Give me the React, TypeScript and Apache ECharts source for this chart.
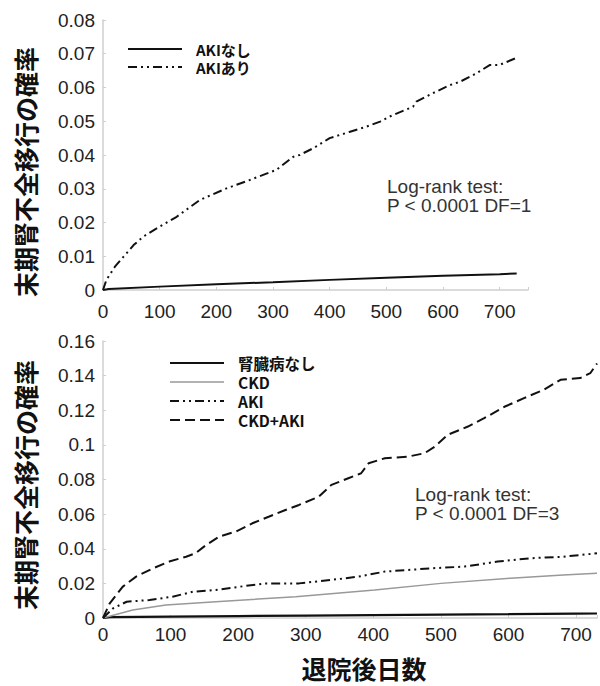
import React, { useEffect, useRef } from "react";
import * as echarts from "echarts";

// ---- data ----
const topNoneX = [0, 10, 100, 200, 300, 400, 500, 600, 700, 730];
const topNoneY = [0, 0.0003, 0.001, 0.0017, 0.0023, 0.003, 0.0036, 0.0042, 0.0047, 0.0049];

const topAkiX = [0, 6, 21, 54, 71, 100, 130, 171, 218, 259, 306, 336, 347, 371, 400, 436, 465, 489, 506, 547, 553, 582, 612, 630, 659, 683, 700, 727];
const topAkiY = [0, 0.003, 0.0069, 0.0133, 0.0158, 0.0188, 0.0217, 0.0267, 0.0301, 0.0326, 0.0356, 0.0395, 0.04, 0.042, 0.045, 0.0469, 0.0484, 0.0499, 0.0514, 0.0543, 0.0558, 0.0583, 0.0607, 0.0617, 0.0642, 0.0667, 0.0667, 0.0686];

const botNoneX = [0, 10, 100, 200, 300, 400, 500, 600, 700, 731];
const botNoneY = [0, 0.0005, 0.0008, 0.0011, 0.0014, 0.0017, 0.002, 0.0022, 0.0025, 0.0026];

const botCkdX = [0, 44, 93, 167, 285, 402, 500, 603, 681, 731];
const botCkdY = [0, 0.0046, 0.0075, 0.0094, 0.0123, 0.0162, 0.02, 0.023, 0.0249, 0.0258];

const botAkiX = [0, 15, 35, 69, 103, 133, 167, 201, 240, 290, 338, 378, 417, 486, 535, 584, 632, 681, 731];
const botAkiY = [0, 0.0056, 0.0094, 0.0104, 0.0123, 0.0152, 0.0162, 0.018, 0.02, 0.02, 0.022, 0.0239, 0.0268, 0.0287, 0.0297, 0.0326, 0.0345, 0.0354, 0.0374];

const botCkdAkiX = [0, 10, 29, 49, 74, 98, 123, 137, 152, 172, 197, 221, 246, 270, 290, 319, 338, 363, 382, 393, 417, 451, 476, 491, 510, 540, 564, 594, 623, 652, 677, 706, 721, 731];
const botCkdAkiY = [0, 0.0085, 0.018, 0.0239, 0.0287, 0.0326, 0.0354, 0.0374, 0.042, 0.047, 0.05, 0.0547, 0.0586, 0.0624, 0.0653, 0.07, 0.0769, 0.0807, 0.0836, 0.0894, 0.0923, 0.0932, 0.0952, 0.099, 0.1058, 0.1106, 0.1154, 0.122, 0.127, 0.1318, 0.1376, 0.1386, 0.1414, 0.147];

const topLegend = ["AKIなし", "AKIあり"];
const botLegend = ["腎臓病なし", "CKD", "AKI", "CKD+AKI"];
const yTitle = "末期腎不全移行の確率";
const xTitle = "退院後日数";
const topTest = ["Log-rank test:", "P < 0.0001 DF=1"];
const botTest = ["Log-rank test:", "P < 0.0001 DF=3"];

const zip = (xs: number[], ys: number[]) => xs.map((x, i) => [x, ys[i]]);

const DASHDOT = [9, 4, 2, 4, 2, 4];
const DASH = [10, 5];
const CJK = "'Noto Sans CJK JP', 'Noto Sans', sans-serif";
const SANS = "'Liberation Sans', Arial, sans-serif";

export default function App() {
  const ref = useRef<HTMLDivElement>(null);
  useEffect(() => {
    document.body.style.margin = "0";
    const chart = echarts.init(ref.current!, undefined, { renderer: "svg" });

    const axisCommon = {
      axisLine: { lineStyle: { color: "#cfcfcf", width: 1.5 } },
      axisTick: { inside: true, length: 3, lineStyle: { color: "#cfcfcf" } },
      splitLine: { show: false },
    };
    const xLabel = (margin: number) => ({
      color: "#222",
      fontSize: 19,
      fontFamily: SANS,
      margin,
      formatter: (v: number) => (v % 100 === 0 ? String(v) : ""),
    });
    const yLabel = { color: "#222", fontSize: 19, fontFamily: SANS, margin: 8 };

    const legendItems = (
      x0: number,
      y0: number,
      step: number,
      labels: string[],
      styles: any[],
      fs: number
    ) =>
      labels.flatMap((lab, i) => [
        {
          type: "line",
          shape: { x1: x0, y1: y0 + i * step, x2: x0 + 54, y2: y0 + i * step },
          style: styles[i],
        },
        {
          type: "text",
          x: x0 + 68,
          y: y0 + i * step,
          style: {
            text: lab,
            fill: "#111",
            font: `bold ${fs}px ${CJK}`,
            lineHeight: fs,
            textVerticalAlign: "middle",
          },
        },
      ]);

    const testText = (x: number, y: number, lines: string[]) => ({
      type: "text",
      x,
      y,
      style: {
        text: lines.join("\n"),
        fill: "#333",
        font: `19px ${SANS}`,
        lineHeight: 19,
      },
    });

    const sBlack = { stroke: "#111", lineWidth: 2 };
    const sGray = { stroke: "#999", lineWidth: 1.5 };
    const sDashDot = { stroke: "#111", lineWidth: 2, lineDash: DASHDOT };
    const sDash = { stroke: "#111", lineWidth: 2, lineDash: DASH };

    const lineSeries = (name: string, xi: number, data: number[][], ls: any) => ({
      type: "line",
      name,
      xAxisIndex: xi,
      yAxisIndex: xi,
      data,
      showSymbol: false,
      symbol: "none",
      lineStyle: ls,
      z: 3,
    });

    const title = (x: number, y: number, text: string, rot: number) => ({
      type: "text",
      x,
      y,
      rotation: rot,
      style: { text, fill: "#111", font: `bold 25px ${CJK}`, textAlign: "center", textVerticalAlign: "middle" },
    });

    chart.setOption({
      animation: false,
      grid: [
        { left: 103, top: 20, width: 425, height: 270 },
        { left: 103, top: 341, width: 497, height: 277 },
      ],
      xAxis: [
        { type: "value", gridIndex: 0, min: 0, max: 750, interval: 100, axisLabel: xLabel(12), ...axisCommon },
        { type: "value", gridIndex: 1, min: 0, max: 731, interval: 100, axisLabel: xLabel(7), ...axisCommon },
      ],
      yAxis: [
        { type: "value", gridIndex: 0, min: 0, max: 0.08, interval: 0.01, axisLabel: yLabel, ...axisCommon },
        { type: "value", gridIndex: 1, min: 0, max: 0.16, interval: 0.02, axisLabel: yLabel, ...axisCommon },
      ],
      series: [
        lineSeries(topLegend[0], 0, zip(topNoneX, topNoneY), { color: "#111", width: 2 }),
        lineSeries(topLegend[1], 0, zip(topAkiX, topAkiY), { color: "#111", width: 2, type: DASHDOT }),
        lineSeries(botLegend[0], 1, zip(botNoneX, botNoneY), { color: "#111", width: 2.2 }),
        lineSeries(botLegend[1], 1, zip(botCkdX, botCkdY), { color: "#999", width: 1.5 }),
        lineSeries(botLegend[2], 1, zip(botAkiX, botAkiY), { color: "#111", width: 2, type: DASHDOT }),
        lineSeries(botLegend[3], 1, zip(botCkdAkiX, botCkdAkiY), { color: "#111", width: 2, type: DASH }),
      ],
      graphic: [
        ...legendItems(128, 49, 18, topLegend, [sBlack, sDashDot], 15),
        ...legendItems(170, 363, 19, botLegend, [sBlack, sGray, sDashDot, sDash], 15.5),
        testText(387, 177, topTest),
        testText(415, 485, botTest),
        title(25, 172, yTitle, Math.PI / 2),
        title(25, 485, yTitle, Math.PI / 2),
        title(364, 668, xTitle, 0),
      ],
    });
    return () => chart.dispose();
  }, []);
  return <div ref={ref} style={{ width: 600, height: 686 }} />;
}
